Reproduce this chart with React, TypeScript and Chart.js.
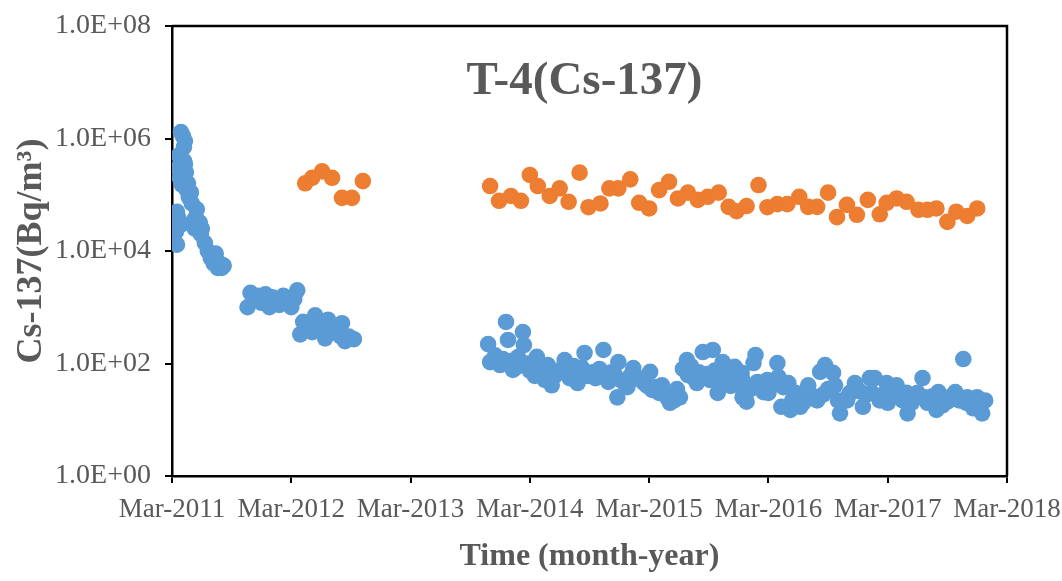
import React, { useEffect, useRef } from "react";
import { Chart, registerables } from "chart.js";

Chart.register(...registerables);

// x values are months since Mar-2011
const xTickLabels = ["Mar-2011", "Mar-2012", "Mar-2013", "Mar-2014", "Mar-2015", "Mar-2016", "Mar-2017", "Mar-2018"];
const yTickValues = [1, 1e2, 1e4, 1e6, 1e8];
const yTickLabels = ["1.0E+00", "1.0E+02", "1.0E+04", "1.0E+06", "1.0E+08"];

const blueMonths = [
  0.9, 1.1, 1.3, 1.2, 0.7, 1.2, 0.6, 1.4, 0.8, 1.1, 1.5, 1.7, 2.0, 2.5, 0.4, 0.6, 0.3, 0.8, 2.2, 2.6, 0.4, 2.9, 0.5, 3.3, 3.6, 4.4, 3.9, 4.2, 4.6, 5.0, 4.8, 5.2,
  2.4, 2.8, 3.0, 2.3, 1.0, 0.2, 0.5, 1.0, 1.3, 1.0, 1.6, 1.9,
  7.6, 7.9, 8.3, 8.7, 9.0, 9.4, 9.8, 10.1, 10.5, 10.8, 11.2, 11.6, 12.0, 12.3, 12.6,
  12.9, 13.2, 13.8, 14.1, 14.4, 14.8, 15.1, 15.4, 15.7, 16.1, 16.5, 17.0, 17.1, 17.4, 17.8, 18.3,
  31.8, 32.0, 33.0, 33.6, 33.8, 34.3, 35.3, 35.4, 36.7, 36.2, 37.8, 37.5, 38.2, 39.5, 40.0, 40.8, 41.5, 43.4, 42.6, 44.9, 43.9, 44.8, 46.4, 45.8, 48.1, 48.3, 49.3, 50.1, 51.1, 51.8, 51.9, 53.4, 54.4, 55.4, 52.8, 54.1, 54.9, 56.6, 57.4, 57.4,
  58.7, 58.5, 60.9, 57.3, 58.9, 59.9, 61.0, 57.5, 57.8, 59.5, 61.5, 62.0, 64.0, 61.3, 62.2, 63.2, 64.9, 65.2, 65.7, 66.5, 66.7, 67.0, 67.2, 67.9, 68.7, 69.5, 70.2, 70.7, 71.2, 71.9, 72.9, 73.9, 75.5, 74.0, 74.7, 76.0, 77.1, 76.9, 78.0, 78.8, 79.6, 80.0, 80.6, 80.8, 81.8, 81.5,
  34.8, 35.8, 36.9, 38.8, 39.2, 40.4, 41.0, 42.0, 43.0, 44.2, 45.2, 46.9, 47.5, 49.0, 49.8, 50.5, 51.4, 52.2, 53.0, 53.8, 54.6, 55.9, 56.2, 60.3, 62.7, 63.7, 66.0, 68.2, 69.9, 72.4, 73.3, 75.0, 76.5, 77.5, 79.2, 81.2,
  32.5, 33.3, 34.0, 34.6, 35.0, 36.0, 36.5, 37.2, 38.5, 39.0, 39.8, 40.6, 41.2, 41.8, 42.3, 43.7, 44.5, 45.5, 46.1, 47.2, 47.8, 48.7, 49.6, 50.3, 50.8, 52.5, 53.2, 55.1, 55.7, 56.9, 58.2, 59.2, 60.0, 60.6, 62.4, 63.5, 64.5, 65.5, 68.0, 69.2, 70.4, 71.5, 72.0, 73.5, 74.4, 75.8, 77.8, 78.4, 79.9, 80.4, 81.0,
];
const blueValues = [
  1.3e6, 1.1e6, 9e5, 7e5, 5e5, 4e5, 3e5, 2.5e5, 2e5, 1.8e5, 1.2e5, 9e4, 7e4, 5.5e4, 4.5e4, 4e4, 3.5e4, 3e4, 3.5e4, 3e4, 2.2e4, 2e4, 1.3e4, 1.4e4, 1e4, 9e3, 7.5e3, 6e3, 5e3, 5e3, 6e3, 5.5e3,
  4e4, 3.2e4, 2.5e4, 2.5e4, 3e4, 2.8e4, 5e4, 1.5e5, 3.5e5, 2.5e5, 1.6e5, 1.1e5,
  1.0e3, 1.8e3, 1.4e3, 1.6e3, 1.2e3, 1.7e3, 1.0e3, 1.5e3, 1.3e3, 1.1e3, 1.6e3, 1.2e3, 1.0e3, 1.4e3, 2.0e3,
  330, 550, 450, 360, 720, 500, 400, 280, 600, 450, 350, 300, 520, 250, 300, 270,
  222, 106, 94, 547, 262, 77, 363, 213, 131, 83, 94, 51, 41, 115, 55, 45, 154, 174, 55, 106, 47, 25, 83, 38, 71, 34, 41, 20, 25, 115, 62, 160, 174, 106, 45, 51, 30, 87, 51, 25,
  142, 102, 102, 68, 47, 51, 58, 30, 21, 31, 38, 45, 41, 17, 15, 17, 22, 71, 94, 68, 41, 22, 13, 22, 45, 17, 55, 55, 22, 45, 41, 30, 55, 13, 24, 20, 31, 15, 21, 31, 120, 25, 16, 24, 22, 13,
  130, 100, 65, 70, 80, 90, 70, 60, 80, 70, 50, 55, 45, 30, 25, 22, 80, 90, 70, 65, 75, 60, 40, 40, 30, 25, 35, 30, 28, 30, 25, 30, 26, 18, 22, 18,
  140, 120, 110, 85, 95, 75, 60, 80, 60, 70, 65, 75, 85, 60, 70, 55, 65, 45, 60, 50, 40, 38, 30, 28, 35, 55, 60, 48, 70, 45, 35, 40, 30, 45, 22, 20, 26, 28, 26, 32, 30, 28, 20, 22, 20, 25, 23, 26, 20, 22, 25,
];

const orangeMonths = [
  13.4, 14.1, 15.1, 16.1, 17.1, 18.1, 19.2,
  32.0, 32.9, 34.1, 35.1, 36.0, 36.8, 38.0, 39.0, 39.9, 41.0, 41.9, 43.1, 44.0, 44.9, 46.1, 47.0, 48.0, 49.0, 50.0, 50.9, 51.9, 52.9, 53.9, 55.0, 56.0, 56.8, 57.8,
  59.0, 59.9, 60.9, 61.9, 63.1, 64.0, 64.9, 66.0, 66.9, 67.9, 68.9, 70.0, 71.2, 71.9, 72.9, 73.9, 75.1, 76.0, 76.9, 78.0, 78.9, 80.0, 81.0,
];
const orangeValues = [
  1.6e5, 2.0e5, 2.6e5, 2.0e5, 8.8e4, 8.8e4, 1.75e5,
  1.43e5, 7.8e4, 9.5e4, 7.8e4, 2.25e5, 1.43e5, 9.5e4, 1.3e5, 7.5e4, 2.47e5, 6.0e4, 7.0e4, 1.3e5, 1.3e5, 1.88e5, 7.2e4, 5.7e4, 1.21e5, 1.7e5, 8.6e4, 1.09e5, 8.1e4, 9.2e4, 1.09e5, 6.1e4, 5.1e4, 6.3e4,
  1.49e5, 6.0e4, 6.8e4, 6.8e4, 9.2e4, 6.1e4, 6.1e4, 1.09e5, 4.0e4, 6.6e4, 4.4e4, 8.1e4, 4.5e4, 7.2e4, 8.6e4, 7.5e4, 5.4e4, 5.4e4, 5.7e4, 3.3e4, 5.0e4, 4.2e4, 5.7e4,
];

const FONT = "'Liberation Serif', 'Times New Roman', serif";
const GRAY = "#595959";

const boxAndTitle = {
  id: "boxAndTitle",
  afterDraw(chart: any) {
    const { ctx, chartArea } = chart;
    ctx.save();
    ctx.strokeStyle = "#000";
    ctx.lineWidth = 2.5;
    ctx.beginPath();
    ctx.moveTo(chartArea.left, chartArea.top);
    ctx.lineTo(chartArea.right, chartArea.top);
    ctx.lineTo(chartArea.right, chartArea.bottom);
    ctx.stroke();
    ctx.fillStyle = GRAY;
    ctx.font = `bold 47px ${FONT}`;
    ctx.textAlign = "center";
    ctx.textBaseline = "middle";
    ctx.fillText("T-4(Cs-137)", (chartArea.left + chartArea.right) / 2 - 5, chartArea.top + 56);
    ctx.restore();
  },
};

export default function App() {
  const ref = useRef<HTMLCanvasElement>(null);
  useEffect(() => {
    document.body.style.margin = "0";
    const blue = blueMonths.map((m, i) => ({ x: m, y: blueValues[i] }));
    const orange = orangeMonths.map((m, i) => ({ x: m, y: orangeValues[i] }));
    const chart = new Chart(ref.current!, {
      type: "scatter",
      data: {
        datasets: [
          { label: "blue", data: blue, backgroundColor: "#5B9BD5", borderWidth: 0, pointRadius: 8.3 },
          { label: "orange", data: orange, backgroundColor: "#ED7D31", borderWidth: 0, pointRadius: 8.3 },
        ],
      },
      options: {
        animation: false,
        responsive: false,
        layout: { padding: { top: 26, right: 55, left: 0, bottom: 0 } },
        plugins: { legend: { display: false }, tooltip: { enabled: false } },
        scales: {
          x: {
            type: "linear",
            min: 0,
            max: 84,
            afterFit: (s: any) => {
              s.height = 105;
              s.paddingLeft = 0;
              s.paddingRight = 0;
            },
            afterBuildTicks: (s: any) => { s.ticks = xTickLabels.map((_, i) => ({ value: i * 12 })); },
            ticks: {
              autoSkip: false,
              maxRotation: 0,
              padding: 11,
              color: GRAY,
              font: { family: FONT, size: 27 },
              callback: (v: any) => xTickLabels[Math.round(Number(v) / 12)] ?? "",
            },
            grid: { drawOnChartArea: false, drawTicks: true, tickLength: 7, color: "#000", lineWidth: 2 },
            border: { display: true, color: "#000", width: 2.5 },
            title: {
              display: true,
              text: "Time (month-year)",
              color: GRAY,
              font: { family: FONT, size: 32, weight: "bold" },
              padding: { top: 0, bottom: 5 },
            },
          },
          y: {
            type: "logarithmic",
            min: 1,
            max: 1e8,
            afterFit: (s: any) => {
              s.width = 172;
              s.paddingTop = 0;
              s.paddingBottom = 0;
            },
            afterBuildTicks: (s: any) => { s.ticks = yTickValues.map((v) => ({ value: v })); },
            ticks: {
              autoSkip: false,
              padding: 14,
              color: GRAY,
              font: { family: FONT, size: 28 },
              callback: (v: any) => {
                const i = yTickValues.indexOf(Number(v));
                return i >= 0 ? yTickLabels[i] : "";
              },
            },
            grid: { drawOnChartArea: false, drawTicks: true, tickLength: 7, color: "#000", lineWidth: 2 },
            border: { display: true, color: "#000", width: 2.5 },
            title: {
              display: true,
              text: "Cs-137(Bq/m³)",
              color: GRAY,
              font: { family: FONT, size: 36, weight: "bold" },
              padding: { top: 10, bottom: 0 },
            },
          },
        },
      },
      plugins: [boxAndTitle],
    });
    return () => chart.destroy();
  }, []);
  return (
    <div style={{ position: "absolute", left: 0, top: 0, width: 1062, height: 581 }}>
      <canvas ref={ref} width={1062} height={581} />
    </div>
  );
}
